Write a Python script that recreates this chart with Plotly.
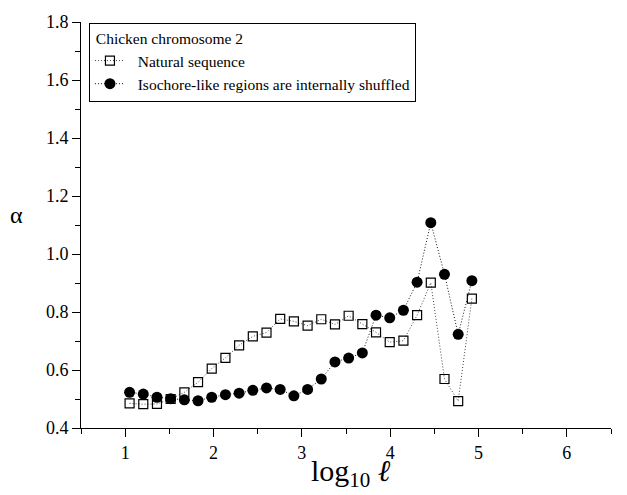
import plotly.graph_objects as go

# log10(l) positions of the windows
log_l = [1.05, 1.205, 1.36, 1.515, 1.67, 1.825, 1.98, 2.135, 2.29, 2.445,
         2.60, 2.755, 2.91, 3.065, 3.22, 3.375, 3.53, 3.685, 3.84, 3.995,
         4.15, 4.305, 4.46, 4.615, 4.77, 4.925]

natural = [0.485, 0.482, 0.483, 0.500, 0.523, 0.558, 0.605, 0.642, 0.685, 0.716,
           0.729, 0.776, 0.768, 0.753, 0.775, 0.757, 0.787, 0.758, 0.730, 0.696,
           0.701, 0.789, 0.901, 0.569, 0.493, 0.846]

shuffled = [0.523, 0.517, 0.506, 0.501, 0.497, 0.494, 0.506, 0.515, 0.520, 0.530,
            0.538, 0.533, 0.511, 0.533, 0.569, 0.628, 0.641, 0.659, 0.789, 0.780,
            0.806, 0.903, 1.108, 0.930, 0.723, 0.908]

legend_title = "Chicken chromosome 2"
name_natural = "Natural sequence"
name_shuffled = "Isochore-like regions are internally shuffled"

x_ticks = [1, 2, 3, 4, 5, 6]
y_ticks = [0.4, 0.6, 0.8, 1.0, 1.2, 1.4, 1.6, 1.8]

FONT = "Liberation Serif"
PAD = "\u00a0\u00a0"

fig = go.Figure()
fig.add_trace(go.Scatter(
    x=log_l, y=natural, name=PAD + name_natural, mode="lines+markers",
    line=dict(color="#444444", width=1, dash="1px,2px"),
    marker=dict(symbol="square-open", size=9, color="black", line=dict(width=1.2, color="black")),
))
fig.add_trace(go.Scatter(
    x=log_l, y=shuffled, name=PAD + name_shuffled, mode="lines+markers",
    line=dict(color="#111111", width=1, dash="1px,2px"),
    marker=dict(symbol="circle", size=11, color="black"),
))

# page body has an 8px margin; the figure is sized to fit the window
fig.update_layout(
    width=619, height=487,
    margin=dict(l=73, r=16, t=14, b=67, autoexpand=False),
    paper_bgcolor="white", plot_bgcolor="white",
    font=dict(family=FONT, color="black", size=18),
    showlegend=True,
    legend=dict(
        x=0.015, y=0.998, xanchor="left", yanchor="top",
        bordercolor="black", borderwidth=1, bgcolor="white",
        font=dict(family=FONT, size=15.5, color="black"),
        title=dict(text="\u00a0" + legend_title, font=dict(family=FONT, size=15.5, color="black")),
        tracegroupgap=0, itemwidth=30,
    ),
    xaxis=dict(
        range=[0.5, 6.5], tickvals=x_ticks, ticktext=[str(v) for v in x_ticks],
        automargin=False,
        showgrid=False, zeroline=False, showline=True, linecolor="black", linewidth=1,
        ticks="outside", ticklen=8, tickcolor="black", tickwidth=1,
        minor=dict(dtick=0.5, tick0=0.5, ticks="outside", ticklen=5, tickcolor="black", showgrid=False),
        tickfont=dict(family=FONT, size=18),
    ),
    yaxis=dict(
        range=[0.4, 1.8], tickvals=y_ticks, ticktext=[f"{v:.1f}" for v in y_ticks],
        automargin=False,
        showgrid=False, zeroline=False, showline=True, linecolor="black", linewidth=1,
        ticks="outside", ticklen=8, tickcolor="black", tickwidth=1,
        minor=dict(dtick=0.1, tick0=0.4, ticks="outside", ticklen=5, tickcolor="black", showgrid=False),
        tickfont=dict(family=FONT, size=18),
    ),
    annotations=[
        dict(text="α", xref="paper", yref="paper", x=-0.121, y=0.525,
             xanchor="center", yanchor="middle", showarrow=False,
             font=dict(family=FONT, size=24, color="black")),
        dict(text="log<sub>10</sub> <i>ℓ</i>", xref="paper", yref="paper", x=0.509, y=-0.111,
             xanchor="center", yanchor="middle", showarrow=False,
             font=dict(family=FONT, size=30, color="black")),
    ],
)

fig.write_html("out.html")
